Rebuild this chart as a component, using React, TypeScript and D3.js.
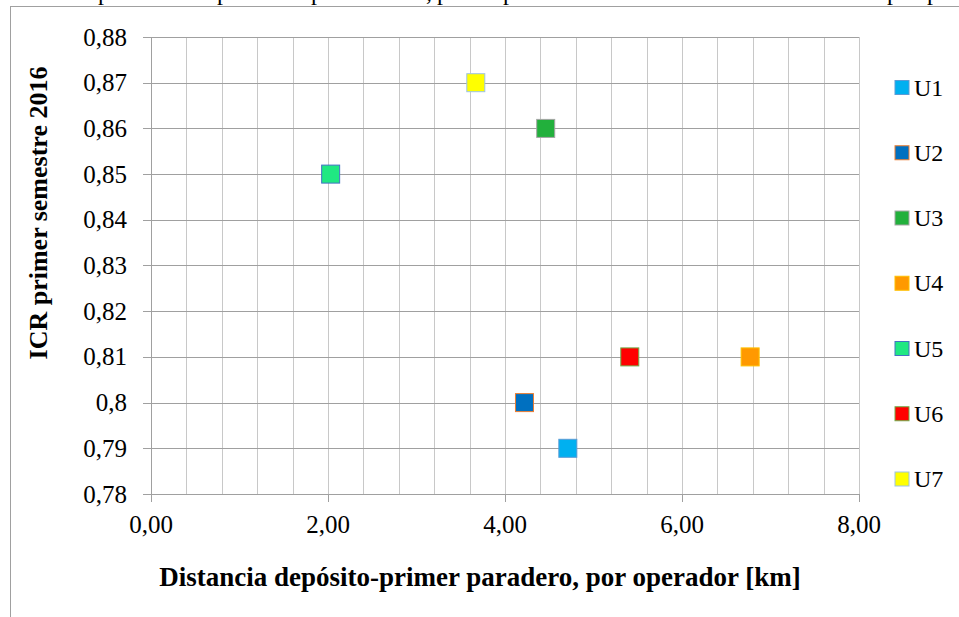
import React from "react";
import * as d3 from "d3";

const seriesNames = ["U1", "U2", "U3", "U4", "U5", "U6", "U7"];
const xValues = [4.71, 4.22, 4.46, 6.77, 2.03, 5.41, 3.67];
const yValues = [0.79, 0.8, 0.86, 0.81, 0.85, 0.81, 0.87];
const fillColors = ["#00b0f0", "#0070c0", "#22b03c", "#ff9900", "#20e882", "#ff0000", "#ffff00"];
const strokeColors = ["#5b9bd5", "#ed7d31", "#a5a5a5", "#ffc000", "#4472c4", "#70ad47", "#9dc3e6"];
const xTickValues = [0, 2, 4, 6, 8];
const xTickLabels = ["0,00", "2,00", "4,00", "6,00", "8,00"];
const xGridValues = d3.range(0, 21).map((i) => i * 0.4);
const yTickValues = d3.range(0, 11).map((i) => 0.78 + i * 0.01);
const yTickLabels = ["0,78", "0,79", "0,8", "0,81", "0,82", "0,83", "0,84", "0,85", "0,86", "0,87", "0,88"];
const topFragment = ["p", "p", "p", ",", "p", "p", "p", "p"];
const topFragmentX = [98, 217, 311, 426, 437, 503, 887, 927];

const W = 959;
const H = 617;
const FONT = "'Liberation Serif', 'Times New Roman', serif";

export default function App() {
  const x = d3.scaleLinear().domain([0, 8]).range([151, 859]);
  const y = d3.scaleLinear().domain([0.78, 0.88]).range([494, 37]);
  const legendY = d3.scaleLinear().domain([0, 6]).range([87.5, 479]);
  const ms = 18;
  const ls = 14;
  const tf = { fontFamily: FONT };

  return (
    <svg
      width={W}
      height={H}
      style={{ position: "absolute", left: 0, top: 0, background: "#fff" }}
    >
      <rect x={0} y={0} width={W} height={H} fill="#fff" />
      {topFragment.map((t, i) => (
        <text key={"tf" + i} x={topFragmentX[i]} y={0} fontSize={24} fill="#000" style={tf}>
          {t}
        </text>
      ))}
      {/* frame */}
      <line x1={10} x2={W} y1={6.5} y2={6.5} stroke="#a0a0a0" strokeWidth={1} />
      <line x1={10.5} x2={10.5} y1={6} y2={H} stroke="#a0a0a0" strokeWidth={1} />

      {/* vertical gridlines */}
      {xGridValues.map((v, i) => (
        <line
          key={"vg" + i}
          x1={Math.round(x(v)) + 0.5}
          x2={Math.round(x(v)) + 0.5}
          y1={y(0.88)}
          y2={y(0.78)}
          stroke={v === 0 ? "#a0a0a0" : "#c8c8c8"}
          strokeWidth={1}
        />
      ))}
      {/* horizontal gridlines + y ticks */}
      {yTickValues.map((v, i) => (
        <g key={"hg" + i}>
          <line
            x1={x(0) - 8}
            x2={x(8)}
            y1={Math.round(y(v)) + 0.5}
            y2={Math.round(y(v)) + 0.5}
            stroke="#a0a0a0"
            strokeWidth={1}
          />
          <text x={127} y={y(v) + 8.5} fontSize={25} textAnchor="end" fill="#000" style={tf}>
            {yTickLabels[i]}
          </text>
        </g>
      ))}
      {/* x ticks */}
      {xTickValues.map((v, i) => (
        <g key={"xt" + i}>
          <line
            x1={Math.round(x(v)) + 0.5}
            x2={Math.round(x(v)) + 0.5}
            y1={y(0.78)}
            y2={y(0.78) + 8}
            stroke="#a0a0a0"
            strokeWidth={1}
          />
          <text x={x(v)} y={533} fontSize={25} textAnchor="middle" fill="#000" style={tf}>
            {xTickLabels[i]}
          </text>
        </g>
      ))}

      {/* markers */}
      {seriesNames.map((s, i) => (
        <rect
          key={"m" + s}
          x={x(xValues[i]) - ms / 2}
          y={y(yValues[i]) - ms / 2}
          width={ms}
          height={ms}
          fill={fillColors[i]}
          stroke={strokeColors[i]}
          strokeWidth={1}
        />
      ))}

      {/* legend */}
      {seriesNames.map((s, i) => (
        <g key={"l" + s}>
          <rect
            x={902 - ls / 2}
            y={legendY(i) - ls / 2}
            width={ls}
            height={ls}
            fill={fillColors[i]}
            stroke={strokeColors[i]}
            strokeWidth={1}
          />
          <text x={914} y={legendY(i) + 8} fontSize={24} fill="#000" style={tf}>
            {s}
          </text>
        </g>
      ))}

      {/* axis titles */}
      <text x={480} y={586} fontSize={27} fontWeight="bold" textAnchor="middle" fill="#000" style={tf}>
        Distancia depósito-primer paradero, por operador [km]
      </text>
      <text
        transform={`translate(47,213) rotate(-90)`}
        fontSize={26}
        fontWeight="bold"
        textAnchor="middle"
        fill="#000"
        style={tf}
      >
        ICR primer semestre 2016
      </text>
    </svg>
  );
}
